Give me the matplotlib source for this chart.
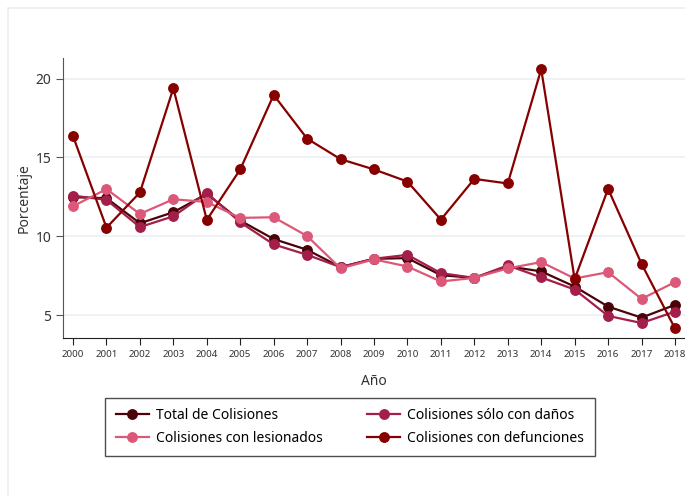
import matplotlib.pyplot as plt
from matplotlib.patches import Rectangle

plt.rcParams['font.family'] = ['Noto Sans', 'DejaVu Sans']

# Datos (porcentaje por año)
anios = list(range(2000, 2019))
total = [12.48, 12.42, 10.83, 11.53, 12.69, 11.0, 9.83, 9.15, 8.05, 8.58, 8.62,
         7.54, 7.37, 8.1, 7.78, 6.82, 5.55, 4.85, 5.66]
danos = [12.58, 12.31, 10.59, 11.27, 12.75, 10.89, 9.49, 8.83, 8.05, 8.58, 8.83,
         7.67, 7.37, 8.16, 7.4, 6.63, 4.96, 4.51, 5.23]
lesionados = [11.91, 12.99, 11.42, 12.35, 12.18, 11.17, 11.21, 10.02, 7.97, 8.54, 8.09,
              7.14, 7.37, 7.97, 8.37, 7.33, 7.73, 6.04, 7.1]
defunciones = [16.35, 10.55, 12.78, 19.38, 11.04, 14.24, 18.96, 16.19, 14.89, 14.24, 13.47,
               11.06, 13.64, 13.35, 20.59, 7.29, 13.01, 8.26, 4.17]

# orden de dibujo
series = [
    ('Total de Colisiones', total, '#4a0409'),
    ('Colisiones sólo con daños', danos, '#a31f4a'),
    ('Colisiones con lesionados', lesionados, '#dc5878'),
    ('Colisiones con defunciones', defunciones, '#870000'),
]

fig = plt.figure(figsize=(6.85, 4.96), dpi=100)
fig.patches.append(Rectangle((8 / 685, -0.05), 1.1, 1 - 8 / 496 + 0.05,
                             transform=fig.transFigure, fill=False,
                             edgecolor='#eceeee', linewidth=1.2))
ax = fig.add_axes([63 / 685, 1 - 338 / 496, 1 - 63 / 685, (338 - 58) / 496])

lines = {}
for label, vals, color in series:
    ln, = ax.plot(anios, vals, '-o', color=color, label=label, linewidth=1.6,
                  markersize=6.8, zorder=3)
    lines[label] = ln

ax.set_xlim(1999.7, 2018.3)
ax.set_ylim(3.56, 21.3)
ax.set_xticks(anios)
ax.set_xticklabels([str(a) for a in anios], fontsize=7, color='#333333')
ax.set_yticks([5, 10, 15, 20])
ax.tick_params(axis='y', labelsize=10, colors='#333333', length=5, color='#555555')
ax.tick_params(axis='x', length=5, color='#222222')
ax.grid(axis='y', color='#e9f0f3', linewidth=1.2)
ax.set_axisbelow(True)
for s in ['top', 'right']:
    ax.spines[s].set_visible(False)
ax.spines['left'].set_color('#555555')
ax.spines['bottom'].set_color('#222222')

ax.set_xlabel('Año', fontsize=10, color='#333333', labelpad=11)
ax.set_ylabel('Porcentaje', fontsize=10, color='#333333', labelpad=3)

# leyenda: se llena por columnas
orden = ['Total de Colisiones', 'Colisiones con lesionados',
         'Colisiones sólo con daños', 'Colisiones con defunciones']
leg = fig.legend([lines[k] for k in orden], orden, loc='center',
                 bbox_to_anchor=(350 / 685, 1 - 427 / 496), ncol=2,
                 fontsize=10, frameon=True, fancybox=False, edgecolor='#222222',
                 handlelength=2.4, columnspacing=3.2, borderpad=0.75,
                 labelspacing=0.55, handletextpad=0.5)
leg.get_frame().set_linewidth(1.0)

fig.savefig('out.png', dpi=100, facecolor='white')
